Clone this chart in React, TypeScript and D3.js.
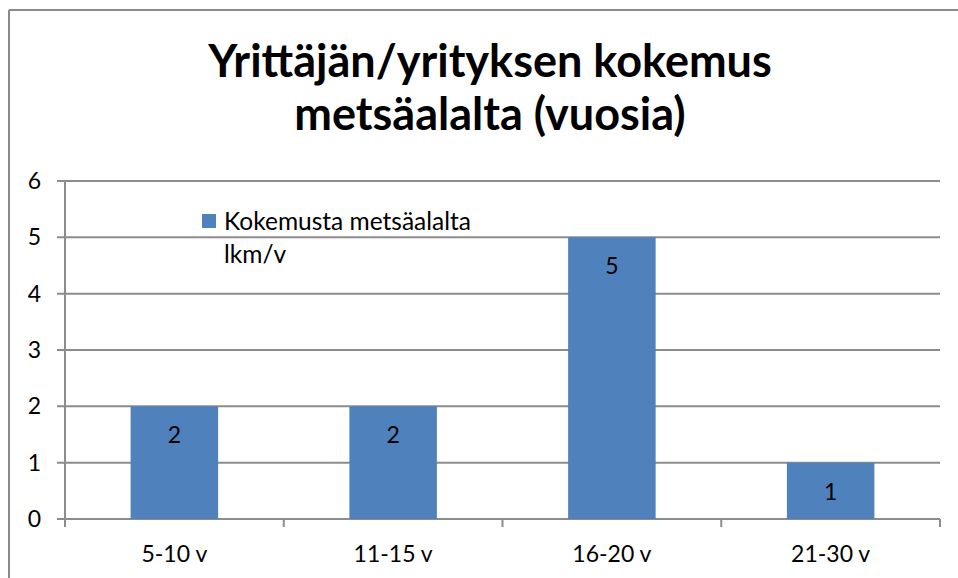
import React from "react";
import * as d3 from "d3";

const categories = ["5-10 v", "11-15 v", "16-20 v", "21-30 v"];
const values = [2, 2, 5, 1];
const yTicks = [0, 1, 2, 3, 4, 5, 6];
const seriesName = ["Kokemusta metsäalalta", "lkm/v"];
const titleLines = ["Yrittäjän/yrityksen kokemus", "metsäalalta (vuosia)"];

const W = 958, H = 578;
const left = 65, right = 940, top = 181, bottom = 519;
const font = "Lato, 'Open Sans', sans-serif";
const gridColor = "#8c8c8c";
const barColor = "#4f81bd";

export default function App() {
  const x = d3.scaleBand<string>().domain(categories).range([left, right]).padding(0);
  const y = d3.scaleLinear().domain([0, 6]).range([bottom, top]);
  const bw = x.bandwidth() * 0.4;
  const bounds = [left, ...categories.map((c) => (x(c) as number) + x.bandwidth())];
  return (
    <svg width={W} height={H} style={{ position: "absolute", left: 0, top: 0, display: "block" }}>
      <rect x={0} y={0} width={W} height={H} fill="#fff" />
      <line x1={9} y1={10} x2={W} y2={10} stroke="#8a8a8a" strokeWidth={2} />
      <line x1={9} y1={10} x2={9} y2={H} stroke="#8a8a8a" strokeWidth={2} />
      {titleLines.map((t, i) => (
        <text key={i} x={490} y={77 + i * 53} textAnchor="middle" fontFamily={font} fontWeight="bold" fontSize={45} fill="#000">
          {t}
        </text>
      ))}
      {yTicks.map((t) => (
        <g key={t}>
          <line x1={57} x2={right} y1={y(t)} y2={y(t)} stroke={gridColor} strokeWidth={2} />
          <text x={41} y={y(t) + 8} textAnchor="end" fontFamily={font} fontSize={23} fill="#000">{t}</text>
        </g>
      ))}
      <line x1={left} x2={left} y1={top} y2={bottom} stroke={gridColor} strokeWidth={2} />
      {bounds.map((b, i) => (
        <line key={i} x1={b} x2={b} y1={bottom} y2={bottom + 8} stroke={gridColor} strokeWidth={2} />
      ))}
      {categories.map((c, i) => {
        const cx = (x(c) as number) + x.bandwidth() / 2;
        return (
          <g key={c}>
            <rect x={cx - bw / 2} y={y(values[i])} width={bw} height={y(0) - y(values[i])} fill={barColor} />
            <text x={cx} y={y(values[i]) + 37} textAnchor="middle" fontFamily={font} fontSize={23} fill="#000">{values[i]}</text>
            <text x={cx} y={562} textAnchor="middle" fontFamily={font} fontSize={23} fill="#000">{c}</text>
          </g>
        );
      })}
      <rect x={202} y={214} width={14} height={14} fill={barColor} />
      <text x={224} y={230} fontFamily={font} fontSize={24.5} fill="#000">{seriesName[0]}</text>
      <text x={224} y={263} fontFamily={font} fontSize={24.5} fill="#000">{seriesName[1]}</text>
    </svg>
  );
}
